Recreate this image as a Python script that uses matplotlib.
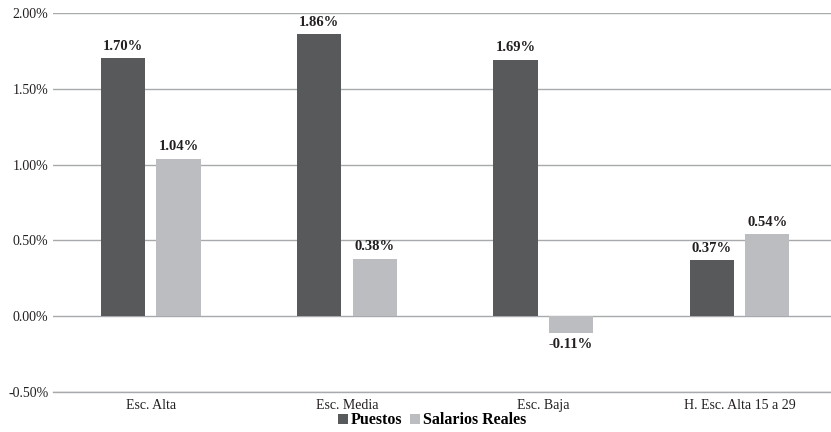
import matplotlib
matplotlib.use("Agg")
import matplotlib.pyplot as plt
import numpy as np

categories = ["Esc. Alta", "Esc. Media", "Esc. Baja", "H. Esc. Alta 15 a 29"]
puestos = [1.70, 1.86, 1.69, 0.37]
salarios = [1.04, 0.38, -0.11, 0.54]
yticks = [-0.5, 0.0, 0.5, 1.0, 1.5, 2.0]

plt.rcParams['font.family'] = ['Liberation Serif', 'DejaVu Serif']

fig = plt.figure(figsize=(8.31, 4.32), dpi=100)
ax = fig.add_axes([0.0634, 0.0926, 0.9446, 0.8774])

x = np.arange(len(categories))
w = 0.225
off = 0.1414
c1, c2 = "#58595b", "#bcbdc0"
b1 = ax.bar(x - off, puestos, w, color=c1, label="Puestos", zorder=3)
b2 = ax.bar(x + off, salarios, w, color=c2, label="Salarios Reales", zorder=3)

for bars, vals in ((b1, puestos), (b2, salarios)):
    for r, v in zip(bars, vals):
        cx = r.get_x() + r.get_width() / 2
        if v >= 0:
            ax.annotate(f"{v:.2f}%", (cx, v), xytext=(0, 4), textcoords="offset points",
                        ha="center", va="bottom", fontsize=10.5, fontweight="bold", color="#231f20")
        else:
            ax.annotate(f"{v:.2f}%", (cx, v), xytext=(0, -4), textcoords="offset points",
                        ha="center", va="top", fontsize=10.5, fontweight="bold", color="#231f20")

ax.set_xlim(-0.5, 3.5)
ax.set_ylim(-0.5, 2.0)
ax.set_yticks(yticks)
ax.set_yticklabels([f"{t:.2f}%" for t in yticks])
ax.set_xticks(x)
ax.set_xticklabels(categories)
ax.yaxis.grid(True, color="#a7a9ac", linewidth=1.0, zorder=0)
ax.set_axisbelow(True)
for s in ("top", "right", "left"):
    ax.spines[s].set_visible(False)
ax.spines["bottom"].set_color("#a7a9ac")
ax.spines["bottom"].set_linewidth(1.0)
ax.tick_params(axis="both", length=0, labelsize=10, colors="#231f20")
ax.tick_params(axis="x", pad=5)
ax.tick_params(axis="y", pad=3)

leg = fig.legend(handles=[b1, b2], loc="lower center", bbox_to_anchor=(0.52, -0.025), ncol=2,
                 frameon=False, prop={"weight": "bold", "size": 11.5},
                 handlelength=0.6, handleheight=0.6, handletextpad=0.2, columnspacing=0.5)

fig.savefig("out.png", dpi=100)
